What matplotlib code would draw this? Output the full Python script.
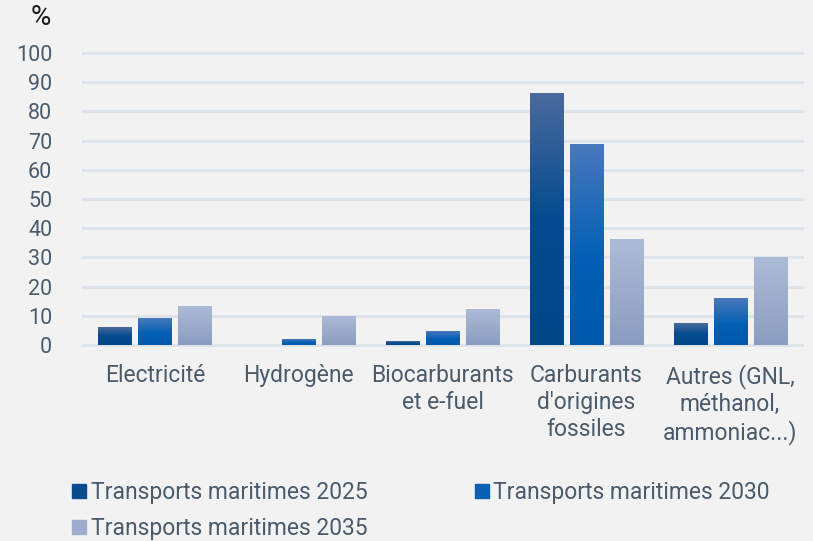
import matplotlib
matplotlib.use("Agg")
import matplotlib.pyplot as plt
import numpy as np
from matplotlib.colors import LinearSegmentedColormap
from matplotlib.lines import Line2D

plt.rcParams['font.family'] = ['Roboto', 'DejaVu Sans']

categories = ["Electricité", "Hydrogène", "Biocarburants\net e-fuel",
              "Carburants\nd'origines\nfossiles", "Autres (GNL,\nméthanol,\nammoniac...)"]
series = ["Transports maritimes 2025", "Transports maritimes 2030", "Transports maritimes 2035"]
v2025 = [6, 0, 1.2, 86, 7.2]
v2030 = [9.2, 2, 4.6, 68.8, 15.8]
v2035 = [13.3, 9.6, 12.3, 36, 29.8]
values = [v2025, v2030, v2035]

# gradient stops (top -> bottom) per series
grads = [
    [(0.0, "#4b6a9d"), (0.5, "#034b8e"), (1.0, "#004788")],
    [(0.0, "#4a78bd"), (0.55, "#0460b5"), (1.0, "#0058ab")],
    [(0.0, "#aebbd8"), (1.0, "#8a9cc0")],
]
legend_cols = ["#0a4d8e", "#0a60b4", "#9eaccd"]

bg = "#f2f2f2"
txt = "#4b5b6b"

fig = plt.figure(figsize=(8.13, 5.41), dpi=100, facecolor=bg)
ax = fig.add_axes([0.102, 0.3623, 0.8845, 0.5397], facecolor=bg)

x = np.arange(len(categories))
width = 0.23
step = 0.278

for i, vals in enumerate(values):
    cmap = LinearSegmentedColormap.from_list("g%d" % i, grads[i])
    grad = np.linspace(0, 1, 256).reshape(-1, 1)
    for xi, v in zip(x, vals):
        if v <= 0:
            continue
        left = xi + (i - 1) * step - width / 2
        ax.imshow(grad, cmap=cmap, aspect="auto", extent=(left, left + width, 0, v),
                  origin="upper", zorder=3, interpolation="bilinear")

ax.set_xlim(-0.5, len(categories) - 0.5)
ax.set_ylim(0, 100)

ax.set_yticks(np.arange(0, 101, 10))
ax.yaxis.grid(True, color="#dee4ea", linewidth=2.2, zorder=0)
for ln in ax.get_ygridlines():
    ln.set_clip_on(False)
ax.set_axisbelow(True)
ax.set_xticks(x)
ax.set_xticklabels(categories, linespacing=1.2)
ax.tick_params(axis="y", length=0, pad=22, labelsize=15.5, labelcolor=txt)
ax.tick_params(axis="x", length=0, pad=14, labelsize=16.5, labelcolor=txt)
for s in ax.spines.values():
    s.set_visible(False)

fig.text(0.050, 0.967, "%", fontsize=20, color="#1a1a1a", ha="center", va="center")

order = [0, 2, 1]
handles = [Line2D([], [], marker="s", linestyle="none", markersize=10,
                  markerfacecolor=legend_cols[k], markeredgecolor=legend_cols[k]) for k in order]
labels = [series[k] for k in order]
fig.legend(handles, labels, loc="upper left", bbox_to_anchor=(0.086, 0.111),
           ncol=2, frameon=False, fontsize=16.5, labelcolor=txt, handletextpad=0.1,
           handlelength=0.8, columnspacing=4.6, borderpad=0, borderaxespad=0,
           labelspacing=0.55)

fig.savefig("out.png", dpi=100, facecolor=bg)
